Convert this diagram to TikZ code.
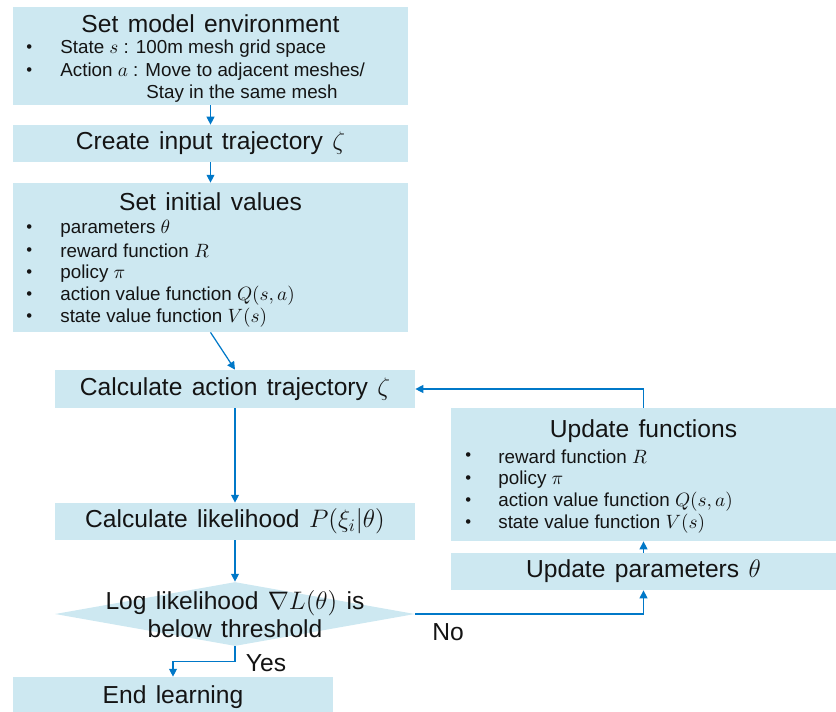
\documentclass[tikz,border=0pt]{standalone}
\usepackage{fontspec}
\setmainfont{Liberation Sans}
\usetikzlibrary{arrows.meta,positioning,shapes.geometric,calc}
\definecolor{pale}{RGB}{205,232,241}
\definecolor{wire}{RGB}{0,120,200}
\definecolor{ink}{RGB}{20,20,20}
\newcommand{\dotmark}{{\fontsize{9.5}{10}\selectfont\textbullet}}
\newcommand{\ttlfont}{\fontsize{14}{16}\selectfont\spaceskip=0.38em plus 0.1em\relax}
\tikzset{
  >={Triangle[length=4.5pt,width=4.5pt]},
  box/.style={fill=pale,draw=none,inner sep=0pt,text=ink,font=\ttlfont},
  decision/.style={diamond,fill=pale,draw=none,inner sep=0pt,
    minimum width=7.2cm,minimum height=1.28cm},
  ttl/.style={font=\ttlfont,text=ink,inner sep=0pt},
  item/.style={font=\fontsize{10.7}{13}\selectfont,text=ink,inner sep=0pt,anchor=west},
  flow/.style={->,draw=wire,line width=0.7pt},
}
\begin{document}
\begin{tikzpicture}
  \useasboundingbox (0,0) rectangle (16.72,-14.22);
  % left column
  \node[box,minimum width=7.9cm,minimum height=1.96cm] (env) at (4.21,-1.12) {};
  \node[ttl] (envt) at (4.21,-0.48) {Set model environment};
  \node[item] at (0.52,-0.98) {\dotmark};
  \node[item] at (1.2,-0.98) {State $s$ : 100m mesh grid space};
  \node[item] at (0.52,-1.44) {\dotmark};
  \node[item] at (1.2,-1.44) {Action $a$ : Move to adjacent meshes/};
  \node[item] at (2.92,-1.88) {Stay in the same mesh};

  \node[box,minimum width=7.9cm,minimum height=0.74cm] (input) at (4.21,-2.87) {Create input trajectory $\zeta$};

  \node[box,minimum width=7.9cm,minimum height=2.98cm] (init) at (4.21,-5.15) {};
  \node[ttl] (initt) at (4.21,-4.04) {Set initial values};
  \foreach \t [count=\i from 0] in {parameters $\theta$,reward function $R$,policy $\pi$,
      {action value function $Q(s,a)$},state value function $V(s)$}
  {
    \node[item] at (0.52,-4.58-0.445*\i) {\dotmark};
    \node[item] at (1.2,-4.58-0.445*\i) {\t};
  }

  \node[box,minimum width=7.2cm,minimum height=0.76cm] (act) at (4.70,-7.78) {Calculate action trajectory $\zeta$};
  \node[box,minimum width=7.2cm,minimum height=0.74cm] (lik) at (4.70,-10.43) {Calculate likelihood $P(\xi_i|\theta)$};
  \node[decision] (dec) at (4.70,-12.28) {};
  \node[ttl,align=center] (dect) at (4.70,-12.28) {Log likelihood $\nabla L(\theta)$ is\\[0pt]below threshold};
  \node[box,minimum width=6.4cm,minimum height=0.8cm] (endl) at (3.46,-13.94) {End learning};

  % right column
  \node[box,minimum width=7.7cm,minimum height=2.66cm] (upf) at (12.87,-9.49) {};
  \node[ttl] (upft) at (12.87,-8.62) {Update functions};
  \foreach \t [count=\i from 0] in {reward function $R$,policy $\pi$,
      {action value function $Q(s,a)$},state value function $V(s)$}
  {
    \node[item] at (9.30,-9.14-0.447*\i) {\dotmark};
    \node[item] at (9.96,-9.14-0.447*\i) {\t};
  }
  \node[box,minimum width=7.7cm,minimum height=0.74cm] (upar) at (12.87,-11.43) {Update parameters $\theta$};

  % connectors
  \draw[flow] (env.south) -- (input.north);
  \draw[flow] (input.south) -- (init.north);
  \draw[flow] (init.south) -- (act.north);
  \draw[flow] (act.south) -- (lik.north);
  \draw[flow] (lik.south) -- (dec.north);
  \draw[flow] (dec.south) -- ++(0,-0.3) -| (endl.north);
  \node[ttl] (yes) at (5.32,-13.26) {Yes};
  \draw[flow] (dec.east) -| (upar.south);
  \node[ttl] (no) at (8.96,-12.64) {No};
  \draw[flow] (upar.north) -- (upf.south);
  \draw[flow] (upf.north) |- (act.east);
\end{tikzpicture}
\end{document}
